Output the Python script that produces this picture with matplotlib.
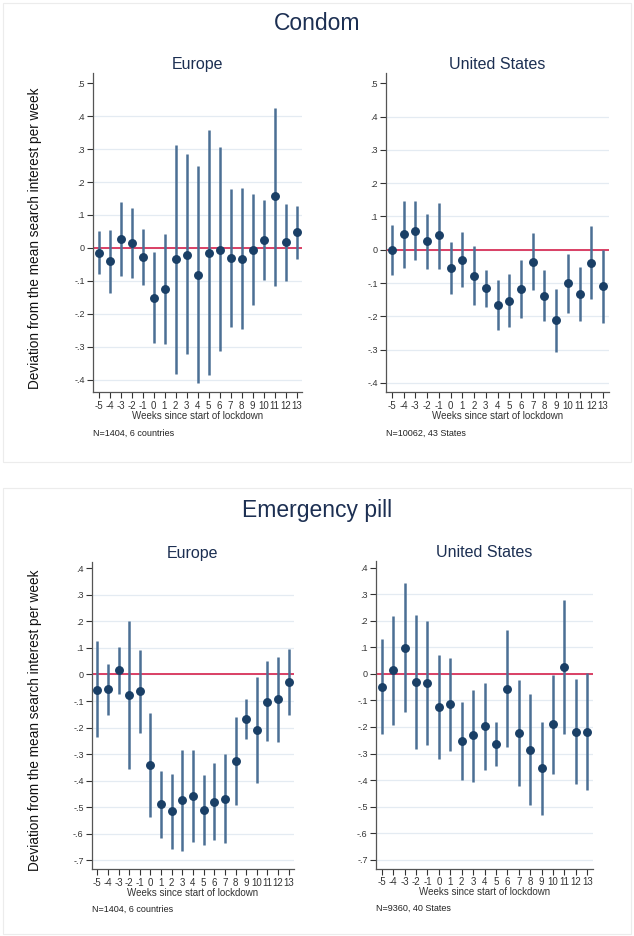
import numpy as np
import matplotlib
matplotlib.use('Agg')
import matplotlib.pyplot as plt
from matplotlib.patches import Rectangle
from matplotlib.ticker import FuncFormatter

plt.rcParams['font.family'] = ['Liberation Sans', 'DejaVu Sans']

weeks = list(range(-5, 14))

# condom, Europe
eu_condom_coef = [-0.016, -0.040, 0.026, 0.015, -0.027, -0.151, -0.125, -0.035, -0.020, -0.082,
                  -0.015, -0.005, -0.031, -0.033, -0.005, 0.025, 0.157, 0.017, 0.047]
eu_condom_lo = [-0.080, -0.136, -0.086, -0.092, -0.112, -0.288, -0.293, -0.383, -0.323, -0.411,
                -0.386, -0.312, -0.240, -0.247, -0.172, -0.098, -0.114, -0.099, -0.033]
eu_condom_hi = [0.050, 0.055, 0.138, 0.122, 0.057, -0.011, 0.042, 0.311, 0.285, 0.249,
                0.358, 0.305, 0.179, 0.182, 0.164, 0.147, 0.425, 0.133, 0.127]

# condom, United States
us_condom_coef = [0.000, 0.047, 0.057, 0.026, 0.043, -0.055, -0.030, -0.078, -0.115, -0.166,
                  -0.153, -0.119, -0.036, -0.138, -0.212, -0.101, -0.133, -0.039, -0.110]
us_condom_lo = [-0.077, -0.055, -0.032, -0.057, -0.058, -0.132, -0.113, -0.166, -0.172, -0.241,
                -0.232, -0.206, -0.121, -0.213, -0.306, -0.189, -0.213, -0.147, -0.221]
us_condom_hi = [0.075, 0.145, 0.146, 0.106, 0.140, 0.023, 0.053, 0.011, -0.060, -0.090,
                -0.072, -0.031, 0.050, -0.061, -0.117, -0.014, -0.053, 0.070, 0.000]

# emergency pill, Europe
eu_pill_coef = [-0.058, -0.054, 0.015, -0.078, -0.064, -0.341, -0.488, -0.515, -0.473, -0.457,
                -0.509, -0.479, -0.468, -0.326, -0.168, -0.208, -0.102, -0.094, -0.029]
eu_pill_lo = [-0.237, -0.152, -0.075, -0.355, -0.219, -0.537, -0.615, -0.656, -0.664, -0.630,
              -0.641, -0.624, -0.634, -0.493, -0.242, -0.408, -0.252, -0.253, -0.152]
eu_pill_hi = [0.125, 0.039, 0.103, 0.201, 0.091, -0.145, -0.362, -0.376, -0.285, -0.285,
              -0.380, -0.335, -0.300, -0.159, -0.094, -0.009, 0.052, 0.065, 0.096]

# emergency pill, United States
us_pill_coef = [-0.048, 0.014, 0.099, -0.031, -0.035, -0.123, -0.114, -0.253, -0.232, -0.197,
                -0.263, -0.058, -0.223, -0.285, -0.356, -0.190, 0.025, -0.218, -0.218]
us_pill_lo = [-0.225, -0.192, -0.143, -0.284, -0.269, -0.319, -0.290, -0.401, -0.408, -0.361,
              -0.346, -0.276, -0.424, -0.494, -0.533, -0.376, -0.225, -0.413, -0.439]
us_pill_hi = [0.130, 0.218, 0.343, 0.221, 0.200, 0.073, 0.060, -0.107, -0.059, -0.034,
              -0.180, 0.164, -0.023, -0.074, -0.180, -0.003, 0.277, -0.020, 0.004]

condom_yticks = [0.5, 0.4, 0.3, 0.2, 0.1, 0.0, -0.1, -0.2, -0.3, -0.4]
pill_yticks = [0.4, 0.3, 0.2, 0.1, 0.0, -0.1, -0.2, -0.3, -0.4, -0.5, -0.6, -0.7]

NAVY = '#1a3f66'
CI_COL = '#4b6f94'
REF_COL = '#d8325a'
TITLE_COL = '#1c2f52'
YLABEL = 'Deviation from the mean search interest per week'
XLABEL = 'Weeks since start of lockdown'


def stata_fmt(v, pos):
    """0.5 -> '.5', -0.1 -> '-.1'"""
    v = round(v, 2)
    if v == 0:
        return '0'
    s = f'{abs(v):.1f}'.lstrip('0')
    return ('-' if v < 0 else '') + s


def panel(rect, title, coef, lo, hi, yticks, ylim, note):
    ax = fig.add_axes(rect)
    for y in yticks[1:]:
        ax.axhline(y, color='#e4ebf2', lw=0.9, zorder=0)
    ax.axhline(0, color=REF_COL, lw=1.3, zorder=1)
    ax.vlines(weeks, lo, hi, color=CI_COL, lw=1.8, zorder=2)
    ax.plot(weeks, coef, 'o', color=NAVY, ms=5.4, zorder=3)
    ax.set_xlim(-5.5, 13.5)
    ax.set_ylim(*ylim)
    ax.set_xticks(weeks)
    ax.set_xticklabels([str(w) for w in weeks])
    ax.set_yticks(yticks)
    ax.yaxis.set_major_formatter(FuncFormatter(stata_fmt))
    ax.tick_params(axis='x', labelsize=7, colors='#333333', length=4,
                   width=0.8, pad=2)
    ax.tick_params(axis='y', labelsize=6.5, colors='#333333', length=4,
                   width=0.8, pad=2)
    for side in ('top', 'right'):
        ax.spines[side].set_visible(False)
    for side in ('left', 'bottom'):
        ax.spines[side].set_color('#555555')
        ax.spines[side].set_linewidth(0.9)
    ax.set_title(title, fontsize=11.5, color=TITLE_COL, pad=3)
    ax.set_xlabel(XLABEL, fontsize=7, color='#333333', labelpad=0)
    ax.text(0.0, -0.115, note, transform=ax.transAxes, fontsize=6.5,
            color='#222222', ha='left', va='top')
    return ax


fig = plt.figure(figsize=(6.34, 9.36), dpi=100)

# faint frames around the two combined graphs
fig.patches.append(Rectangle((3 / 634, 1 - 462 / 936), 628 / 634, 459 / 936,
                             transform=fig.transFigure, fill=False,
                             edgecolor='#ececec', lw=0.8))
fig.patches.append(Rectangle((3 / 634, 2 / 936), 628 / 634, 446 / 936,
                             transform=fig.transFigure, fill=False,
                             edgecolor='#ececec', lw=0.8))

fig.text(0.5, 1 - 24 / 936, 'Condom', fontsize=16.5, color=TITLE_COL,
         ha='center', va='center')
fig.text(0.5, 1 - 511 / 936, 'Emergency pill', fontsize=16.5, color=TITLE_COL,
         ha='center', va='center')
fig.text(35 / 634, 1 - 238 / 936, YLABEL, rotation=90, fontsize=9.8,
         ha='center', va='center', color='#111111')
fig.text(35 / 634, 1 - 720 / 936, YLABEL, rotation=90, fontsize=9.8,
         ha='center', va='center', color='#111111')

panel([93 / 634, 0.5809, 209 / 634, 0.3408], 'Europe',
      eu_condom_coef, eu_condom_lo, eu_condom_hi, condom_yticks,
      (-0.438, 0.53), 'N=1404, 6 countries')
panel([386 / 634, 0.5809, 223 / 634, 0.3408], 'United States',
      us_condom_coef, us_condom_lo, us_condom_hi, condom_yticks,
      (-0.428, 0.53), 'N=10062, 43 States')
panel([92 / 634, 0.0713, 202 / 634, 0.3286], 'Europe',
      eu_pill_coef, eu_pill_lo, eu_pill_hi, pill_yticks,
      (-0.734, 0.425), 'N=1404, 6 countries')
panel([376 / 634, 0.0719, 217 / 634, 0.3286], 'United States',
      us_pill_coef, us_pill_lo, us_pill_hi, pill_yticks,
      (-0.734, 0.425), 'N=9360, 40 States')

fig.savefig('out.png', dpi=100)
